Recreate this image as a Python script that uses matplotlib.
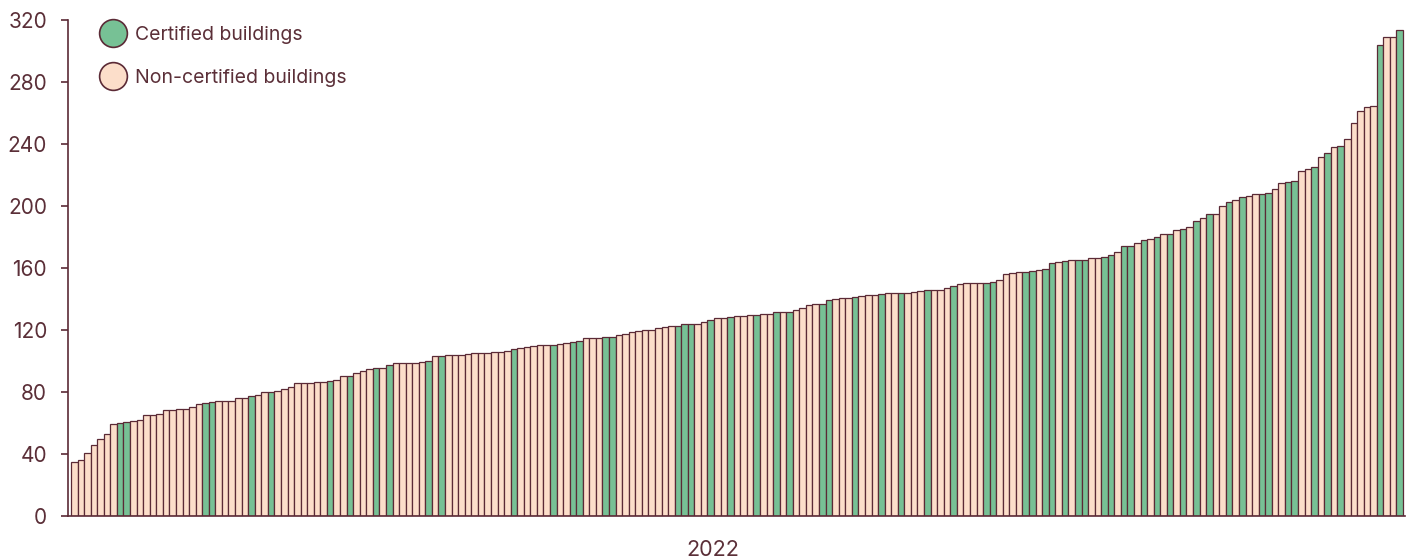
import matplotlib
matplotlib.use("Agg")
import matplotlib.pyplot as plt
from matplotlib.lines import Line2D

plt.rcParams['font.family'] = ['Inter', 'DejaVu Sans']

# Values per building (sorted ascending), year 2022
values = [
    35, 36, 40.4, 46, 49.5, 53, 59.6, 60, 60.4, 61,
    62, 65, 65.4, 65.8, 68.2, 68.2, 68.8, 68.8, 70.3, 72,
    73.1, 73.5, 74.2, 74.2, 74.2, 76.3, 76.3, 77.4, 78.3, 79.8,
    80.2, 80.9, 82.2, 83, 85.6, 85.6, 85.6, 86.2, 86.5, 87.1,
    87.5, 90.1, 90.1, 92.5, 93.5, 94.8, 95.7, 95.7, 97.6, 98.9,
    98.9, 98.9, 98.9, 99.4, 99.8, 103.4, 103.4, 103.7, 104.1, 104.1,
    104.5, 105, 105.4, 105.4, 105.8, 105.8, 106.7, 107.5, 108.2, 109.2,
    109.7, 110.1, 110.5, 110.5, 111.2, 111.6, 112.5, 113.1, 115, 115,
    115, 115.7, 115.7, 116.8, 117.4, 118.7, 119.1, 119.8, 119.8, 121.1,
    121.7, 122.4, 122.8, 124.1, 124.1, 124.1, 125.2, 126.7, 127.5, 127.5,
    128.2, 128.8, 129.3, 129.5, 129.5, 130.5, 130.5, 131.4, 131.6, 131.8,
    132.7, 134.4, 136.3, 137, 137, 139.6, 140, 140.4, 140.9, 141.1,
    141.7, 142.4, 142.4, 143.4, 143.9, 143.9, 144.1, 144.1, 144.7, 145.4,
    145.6, 145.6, 145.6, 147.3, 148.4, 149.9, 150.5, 150.5, 150.5, 150.5,
    151.2, 152.3, 155.9, 156.6, 157.4, 157.4, 157.8, 158.5, 159.6, 163.4,
    164.1, 164.5, 165, 165, 165.2, 166.7, 166.7, 167.1, 168.6, 170.1,
    174, 174.4, 176.1, 177.8, 178.5, 180.2, 181.9, 182.2, 184.3, 185,
    186.5, 190.5, 192, 194.6, 194.6, 200.2, 202.4, 203.7, 205.6, 206.7,
    208, 208, 208.6, 211, 214.8, 215.5, 216.1, 222.8, 223.9, 225.2,
    231.8, 234.4, 238.3, 238.7, 243.2, 253.3, 261.5, 263.6, 264.7, 304,
    308.8, 308.8, 313.7,
]

# 1-based positions of certified buildings
certified_idx = [
    8, 9, 21, 22, 28, 31, 40, 43, 47, 49,
    55, 57, 68, 74, 77, 78, 82, 83, 93, 94,
    95, 98, 101, 105, 108, 110, 115, 116, 120, 124,
    127, 131, 135, 140, 141, 146, 147, 149, 150, 152,
    154, 155, 158, 159, 161, 162, 164, 166, 168, 170,
    172, 174, 177, 179, 182, 183, 186, 187, 190, 192,
    194, 200, 203,
]

year_label = "2022"
legend_labels = ["Certified buildings", "Non-certified buildings"]
yticks = [0, 40, 80, 120, 160, 200, 240, 280, 320]

GREEN = "#77c195"
PALE = "#fcdeca"
EDGE = "#5b2a36"
TEXT = "#5b2f38"

cert = set(certified_idx)
colors = [GREEN if (i + 1) in cert else PALE for i in range(len(values))]

fig = plt.figure(figsize=(14.13, 5.58), dpi=100)
ax = fig.add_axes([68 / 1413, 42 / 558, 1337 / 1413, 496 / 558])

x = list(range(len(values)))
ax.bar(x, values, width=1.0, color=colors, edgecolor=EDGE, linewidth=0.9)

n = len(values)
ax.set_xlim(-0.957, n - 0.5 + 0.3)
ax.set_ylim(0, 320)
ax.set_yticks(yticks)
ax.set_yticklabels([str(t) for t in yticks])
ax.set_xticks([97.3])
ax.set_xticklabels([year_label])

for s in ["top", "right"]:
    ax.spines[s].set_visible(False)
for s in ["left", "bottom"]:
    ax.spines[s].set_color(EDGE)
    ax.spines[s].set_linewidth(1.2)

ax.tick_params(axis="y", colors=EDGE, labelcolor=TEXT, labelsize=15, length=5, width=1.2, pad=10)
ax.tick_params(axis="x", length=0, labelcolor=TEXT, labelsize=15.5, pad=17)

handles = [
    Line2D([0], [0], marker="o", linestyle="", markersize=20,
           markerfacecolor=GREEN, markeredgecolor=EDGE, markeredgewidth=1.2),
    Line2D([0], [0], marker="o", linestyle="", markersize=20,
           markerfacecolor=PALE, markeredgecolor=EDGE, markeredgewidth=1.2),
]
leg = ax.legend(handles, legend_labels, loc="upper left", bbox_to_anchor=(0.0133, 1.012),
                frameon=False, fontsize=14, handletextpad=0.33, labelspacing=1.3,
                handlelength=1.6, borderaxespad=0.2)
for t in leg.get_texts():
    t.set_color(TEXT)

fig.savefig("out.png", dpi=100)
